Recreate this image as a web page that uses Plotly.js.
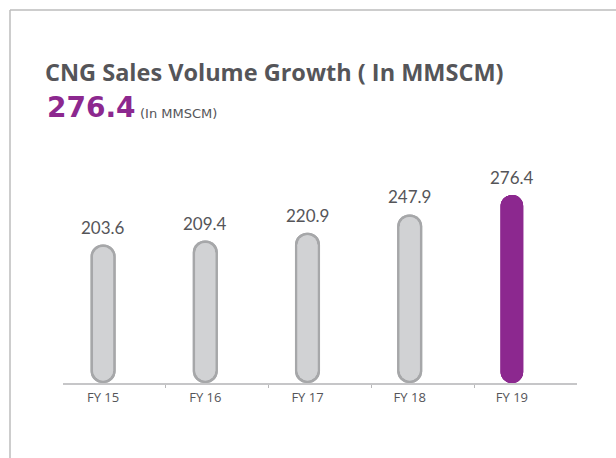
<!DOCTYPE html>
<html>
<head>
<meta charset="utf-8">
<script src="https://cdn.plot.ly/plotly-3.0.1.min.js"></script>
<style>html,body{margin:0;padding:0;background:#fff;}#chart{width:616px;height:458px;}</style>
</head>
<body>
<div id="chart"></div>
<script>
// ---- data ----
const categories = ["FY 15", "FY 16", "FY 17", "FY 18", "FY 19"];
const volumes = [203.6, 209.4, 220.9, 247.9, 276.4];
const valueLabels = ["203.6", "209.4", "220.9", "247.9", "276.4"];
const headlineValue = "276.4";
const titleText = "CNG Sales Volume Growth ( In MMSCM)";
const unitText = "(In MMSCM)";
const dividerPositions = [1, 2, 3, 4];

// ---- style ----
const W = 616, H = 458;
const mL = 52, mR = 39, mT = 113, mB = 75;
const plotW = W - mL - mR, plotH = H - mT - mB;
const yMax = 397;
const pxPerUnit = plotH / yMax;
const outlinePx = 2.5;
const d = outlinePx / pxPerUnit;
const grey = "#d1d2d4", greyLine = "#a6a7a9", purple = "#8c288f";
const isLast = volumes.map((v, i) => i === volumes.length - 1);
const outerW = isLast.map(l => l ? 0.22 : 0.245);
const innerW = isLast.map(l => l ? 0.22 : 0.245 - 2 * outlinePx / 102.2);
const outerC = isLast.map(l => l ? purple : greyLine);
const innerC = isLast.map(l => l ? purple : grey);

const common = {type: "bar", x: categories, hoverinfo: "skip", showlegend: false};
const traces = [
  // carrier so the baseline axis (x2) gets drawn; no visible marks
  {type: "scatter", mode: "markers", x: [], y: [], xaxis: "x2", yaxis: "y",
    hoverinfo: "skip", showlegend: false},
  Object.assign({}, common, {y: volumes, base: volumes.map(() => 0), width: outerW,
    marker: {color: outerC, cornerradius: "50%", line: {width: 0}}}),
  Object.assign({}, common, {y: volumes.map(v => -v), base: volumes, width: outerW,
    marker: {color: outerC, cornerradius: "50%", line: {width: 0}}}),
  Object.assign({}, common, {y: volumes.map((v, i) => isLast[i] ? v : v - 2 * d),
    base: volumes.map((v, i) => isLast[i] ? 0 : d), width: innerW,
    marker: {color: innerC, cornerradius: "50%", line: {width: 0}}}),
  Object.assign({}, common, {y: volumes.map((v, i) => isLast[i] ? -v : -(v - 2 * d)),
    base: volumes.map((v, i) => isLast[i] ? v : v - d), width: innerW,
    marker: {color: innerC, cornerradius: "50%", line: {width: 0}}})
];

const px2x = px => (px - mL) / plotW;
const px2y = py => (H - mB - py) / plotH;

const annotations = categories.map((c, i) => ({
  x: c, y: volumes[i], xref: "x", yref: "y", text: valueLabels[i], showarrow: false,
  yanchor: "bottom", yshift: 5, font: {family: "Lato, sans-serif", size: 17, color: "#555559"}
}));
annotations.push({
  xref: "paper", yref: "paper", x: px2x(45), y: px2y(108), xanchor: "left", yanchor: "middle",
  text: "<b>" + headlineValue + "</b>", showarrow: false,
  font: {family: "DejaVu Sans, sans-serif", size: 28, color: purple}
});
annotations.push({
  xref: "paper", yref: "paper", x: px2x(138), y: px2y(114), xanchor: "left", yanchor: "middle",
  text: unitText, showarrow: false,
  font: {family: "DejaVu Sans, sans-serif", size: 13, color: "#555559"}
});

const layout = {
  width: W, height: H,
  margin: {l: mL, r: mR, t: mT, b: mB, pad: 0},
  paper_bgcolor: "#fff", plot_bgcolor: "rgba(0,0,0,0)",
  barmode: "overlay",
  title: {text: "<b>" + titleText + "</b>", xref: "container", yref: "container",
    x: 45 / W, xanchor: "left", y: 1 - 73 / H, yanchor: "middle",
    font: {family: "Open Sans, sans-serif", size: 23.5, color: "#555559"}},
  xaxis: {type: "category", range: [-0.5, 4.5], domain: [0, (563 - mL) / plotW],
    showline: false, ticks: "", showgrid: false, zeroline: false, ticklabelstandoff: 5,
    tickfont: {family: "Open Sans, sans-serif", size: 13, color: "#555559"}},
  xaxis2: {type: "linear", range: [0, 5], domain: [(63 - mL) / plotW, 1], anchor: "y",
    showline: true, linecolor: "#c6c6c8", linewidth: 2, ticks: "outside", ticklen: 3,
    tickcolor: "#b8b8ba", tickwidth: 1, tickvals: dividerPositions, showticklabels: false,
    showgrid: false, zeroline: false},
  yaxis: {range: [0, yMax], visible: false, showgrid: false, zeroline: false},
  annotations: annotations,
  shapes: [
    {type: "line", xref: "paper", yref: "paper", x0: px2x(10), x1: px2x(10), y0: px2y(10), y1: px2y(470),
      line: {color: "#bdbdbd", width: 1.5}},
    {type: "line", xref: "paper", yref: "paper", x0: px2x(10), x1: px2x(630), y0: px2y(10), y1: px2y(10),
      line: {color: "#bdbdbd", width: 1.5}}
  ]
};

Plotly.newPlot("chart", traces, layout, {staticPlot: true, displayModeBar: false});
</script>
</body>
</html>
